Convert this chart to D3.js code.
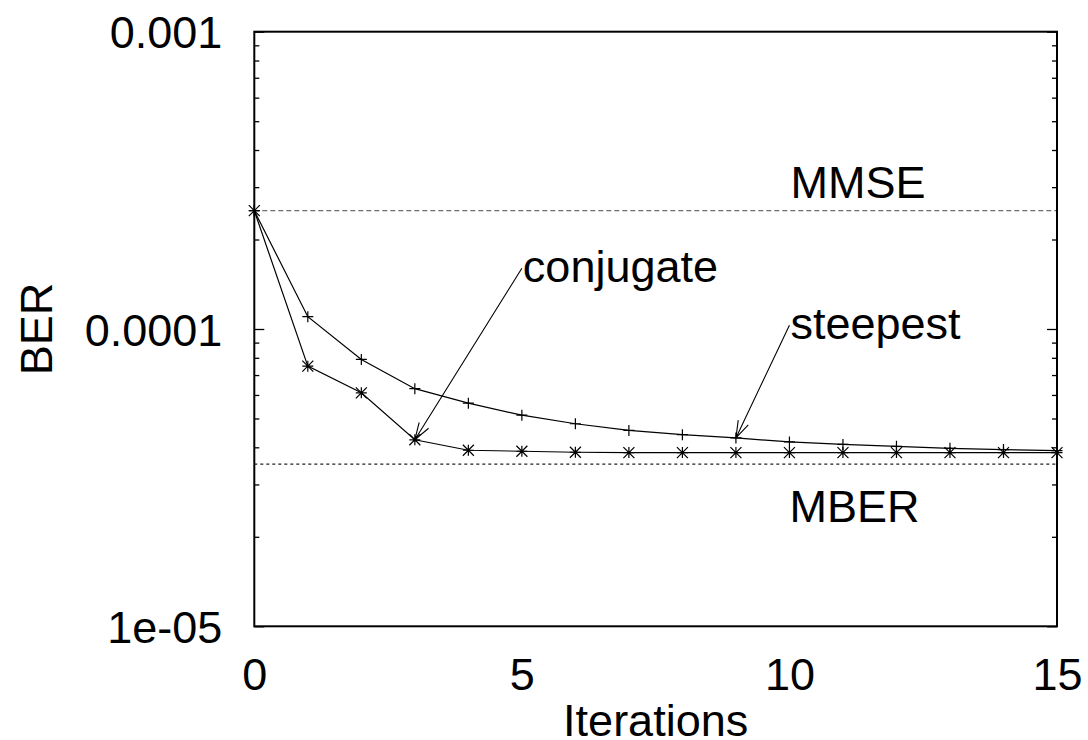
<!DOCTYPE html>
<html>
<head>
<meta charset="UTF-8">
<script src="https://cdn.jsdelivr.net/npm/d3@7"></script>
<style>
  body { margin: 0; background: #fff; }
  text { font-family: "Liberation Sans", Arial, sans-serif; fill: #000; }
</style>
</head>
<body>
<div id="chart"></div>
<script>
// iterations 0..15
var iterations = d3.range(0, 16);
var steepest  = [2.5e-4, 1.10e-4, 7.9e-5, 6.3e-5, 5.63e-5, 5.13e-5, 4.80e-5, 4.56e-5,
                 4.41e-5, 4.30e-5, 4.17e-5, 4.09e-5, 4.03e-5, 3.97e-5, 3.93e-5, 3.90e-5];
var conjugate = [2.5e-4, 7.5e-5, 6.1e-5, 4.24e-5, 3.91e-5, 3.88e-5, 3.85e-5, 3.84e-5,
                 3.84e-5, 3.84e-5, 3.84e-5, 3.84e-5, 3.84e-5, 3.84e-5, 3.84e-5, 3.84e-5];
var mmse = 2.5e-4;
var mber = 3.51e-5;
var xTicks = [0, 5, 10, 15];
var yMajor = [1e-3, 1e-4, 1e-5];
var yLabels = ["0.001", "0.0001", "1e-05"];

var width = 1088, height = 740;
var padL = 254.3, padR = 1057, padT = 31.7, padB = 626.3;

var svg = d3.select("#chart").append("svg")
    .attr("width", width)
    .attr("height", height);

var x = d3.scaleLinear().domain([0, 15]).range([padL, padR]);
var y = d3.scaleLog().domain([1e-5, 1e-3]).range([padB, padT]);

// minor ticks 2..9 per decade
var yMinor = [];
[1e-5, 1e-4].forEach(function (d) {
    for (var k = 2; k <= 9; k++) yMinor.push(d * k);
});

function tidy(g) {
    g.select(".domain").remove();
    g.selectAll("line").attr("stroke", "#000").attr("stroke-width", 1.3);
}

// left axis
svg.append("g")
    .attr("transform", "translate(" + padL + ",0)")
    .call(d3.axisLeft(y).tickValues(yMajor).tickSize(-10).tickPadding(32)
        .tickFormat(function (d, i) { return yLabels[i]; }))
    .call(tidy)
    .selectAll("text")
    .attr("dy", "16px")
    .style("font-size", "45px");

svg.append("g")
    .attr("transform", "translate(" + padL + ",0)")
    .call(d3.axisLeft(y).tickValues(yMinor).tickSize(-5).tickFormat(""))
    .call(tidy);

// right axis mirror
svg.append("g")
    .attr("transform", "translate(" + padR + ",0)")
    .call(d3.axisRight(y).tickValues(yMajor).tickSize(-10).tickFormat(""))
    .call(tidy);

svg.append("g")
    .attr("transform", "translate(" + padR + ",0)")
    .call(d3.axisRight(y).tickValues(yMinor).tickSize(-5).tickFormat(""))
    .call(tidy);

// bottom labels, no tick marks
svg.append("g")
    .attr("transform", "translate(0," + padB + ")")
    .call(d3.axisBottom(x).tickValues(xTicks).tickSize(0))
    .call(tidy)
    .selectAll("text")
    .attr("dy", null)
    .attr("y", 64)
    .style("font-size", "45px");

// reference lines
svg.append("line")
    .attr("x1", padL).attr("x2", padR)
    .attr("y1", y(mmse)).attr("y2", y(mmse))
    .attr("stroke", "#6e6e6e").attr("stroke-width", 1.2)
    .attr("stroke-dasharray", "5,3");

svg.append("line")
    .attr("x1", padL).attr("x2", padR)
    .attr("y1", y(mber)).attr("y2", y(mber))
    .attr("stroke", "#222").attr("stroke-width", 1.2)
    .attr("stroke-dasharray", "3,3");

// series
var line = d3.line()
    .x(function (d, i) { return x(iterations[i]); })
    .y(function (d) { return y(d); });

svg.append("path").datum(steepest)
    .attr("d", line).attr("fill", "none")
    .attr("stroke", "#000").attr("stroke-width", 1.2);

svg.append("path").datum(conjugate)
    .attr("d", line).attr("fill", "none")
    .attr("stroke", "#000").attr("stroke-width", 1.2);

var s = 5.5;
svg.append("g").selectAll("path")
    .data(steepest).enter().append("path")
    .attr("transform", function (d, i) { return "translate(" + x(iterations[i]) + "," + y(d) + ")"; })
    .attr("d", "M" + (-s) + ",0H" + s + "M0," + (-s) + "V" + s)
    .attr("stroke", "#000").attr("stroke-width", 1.2);

svg.append("g").selectAll("path")
    .data(conjugate).enter().append("path")
    .attr("transform", function (d, i) { return "translate(" + x(iterations[i]) + "," + y(d) + ")"; })
    .attr("d", "M" + (-s) + ",0H" + s + "M0," + (-s) + "V" + s +
               "M" + (-s) + "," + (-s) + "L" + s + "," + s +
               "M" + (-s) + "," + s + "L" + s + "," + (-s))
    .attr("stroke", "#000").attr("stroke-width", 1.2);

// annotations with arrows
var notes = [
    {text: "conjugate", fx: 5, fy: 1.6e-4, tx: 3, ty: conjugate[3]},
    {text: "steepest", fx: 10, fy: 1.03e-4, tx: 9, ty: steepest[9]}
];

notes.forEach(function (n) {
    var x1 = x(n.fx), y1 = y(n.fy), x2 = x(n.tx), y2 = y(n.ty);
    var a = Math.atan2(y1 - y2, x1 - x2), L = 18, h = 18 * Math.PI / 180;
    svg.append("path")
        .attr("d", "M" + x1 + "," + y1 + "L" + x2 + "," + y2 +
            "M" + (x2 + L * Math.cos(a - h)) + "," + (y2 + L * Math.sin(a - h)) +
            "L" + x2 + "," + y2 +
            "L" + (x2 + L * Math.cos(a + h)) + "," + (y2 + L * Math.sin(a + h)))
        .attr("fill", "none").attr("stroke", "#000").attr("stroke-width", 1.1);
    svg.append("text")
        .attr("x", x1 + 1).attr("y", y1 + 14)
        .style("font-size", "45px")
        .text(n.text);
});

svg.append("text").attr("x", x(10) + 1).attr("y", y(3.13e-4) + 16.5)
    .style("font-size", "45px").text("MMSE");
svg.append("text").attr("x", x(10)).attr("y", y(2.54e-5) + 16.5)
    .style("font-size", "45px").text("MBER");

// frame
svg.append("rect")
    .attr("x", padL).attr("y", padT)
    .attr("width", padR - padL).attr("height", padB - padT)
    .attr("fill", "none").attr("stroke", "#000").attr("stroke-width", 2);

// axis titles
svg.append("text")
    .attr("x", (padL + padR) / 2).attr("y", 736)
    .attr("text-anchor", "middle")
    .style("font-size", "45px")
    .text("Iterations");

svg.append("text")
    .attr("transform", "translate(52," + (padT + padB) / 2 + ") rotate(-90)")
    .attr("text-anchor", "middle")
    .style("font-size", "45px")
    .text("BER");
</script>
</body>
</html>
